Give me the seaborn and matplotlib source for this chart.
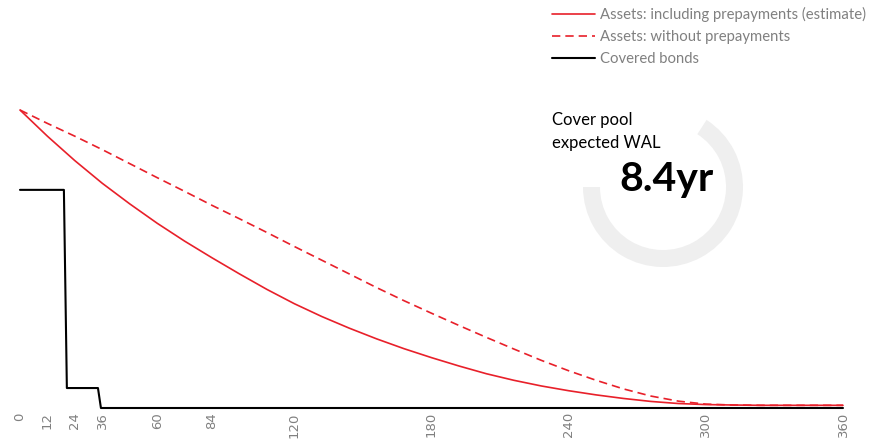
import matplotlib.pyplot as plt
from matplotlib.patches import Wedge
import seaborn as sns

# months on the x axis, values as % of the initial balance
tick_months = [0, 12, 24, 36, 60, 84, 120, 180, 240, 300, 360]

asset_months = [0, 12, 24, 36, 48, 60, 72, 84, 96, 108, 120, 132, 144, 156, 168, 180,
                192, 204, 216, 228, 240, 252, 264, 276, 288, 300, 312, 324, 336, 348, 360]
assets_prepay = [100, 91.2, 83, 75.4, 68.5, 62, 56, 50.4, 45, 39.8, 35.0, 30.7, 26.8,
                 23.2, 19.9, 16.9, 14.1, 11.5, 9.3, 7.4, 5.8, 4.4, 3.2, 2.2, 1.5,
                 1.15, 1.0, 0.9, 0.9, 0.9, 0.9]
assets_no_prepay = [100, 95.5, 91.2, 86.7, 82, 77.3, 72.7, 68, 63.5, 58.9, 54.2, 49.6,
                    45.0, 40.4, 36.0, 31.8, 27.7, 23.7, 19.8, 16.0, 12.5, 9.3, 6.4,
                    4.0, 2.3, 1.3, 1.0, 0.9, 0.9, 0.9, 0.9]

bond_months = [0, 19.2, 20.5, 34.1, 35.4, 360]
covered_bonds = [73.2, 73.2, 6.7, 6.7, 0, 0]

wal_text = "8.4yr"

RED = "#e8202a"
GREY = "#808080"

sns.set_theme(style="white")
plt.rcParams['font.family'] = ['Lato', 'DejaVu Sans']

W, H = 871, 442
fig = plt.figure(figsize=(W / 100, H / 100), dpi=100)

# axes placed in pixels: x 20..843, y 110..408 (from top)
ax = fig.add_axes([20 / W, (H - 408) / H, 823 / W, 298 / H])

sns.lineplot(x=asset_months, y=assets_prepay, ax=ax, color=RED, lw=1.2,
             label="Assets: including prepayments (estimate)")
sns.lineplot(x=asset_months, y=assets_no_prepay, ax=ax, color=RED, lw=1.2,
             label="Assets: without prepayments")
ax.lines[1].set_dashes((5, 3))
sns.lineplot(x=bond_months, y=covered_bonds, ax=ax, color="black", lw=1.5,
             label="Covered bonds")
for ln in ax.lines:
    ln.set_clip_on(False)

ax.set_xlim(0, 360)
ax.set_ylim(0, 100)
ax.set_xticks(tick_months)
ax.set_xticklabels([str(m) for m in tick_months], rotation=90, color=GREY,
                   fontsize=9.5, family='DejaVu Sans')
ax.tick_params(axis='x', length=0, pad=3)
ax.set_yticks([])
ax.set_xlabel('')
ax.set_ylabel('')
sns.despine(ax=ax, left=True, bottom=True)

handles, labels = ax.get_legend_handles_labels()
ax.get_legend().remove()
leg = fig.legend(handles, labels, loc='upper left', bbox_to_anchor=(552 / W, 1 - 7 / H),
                 frameon=False, fontsize=10.7, handlelength=2.9, handletextpad=0.34,
                 labelspacing=0.55, borderpad=0, borderaxespad=0)
for t in leg.get_texts():
    t.set_color(GREY)

# WAL donut
dax = fig.add_axes([(663 - 90) / W, (H - 187 - 90) / H, 180 / W, 180 / H])
dax.set_xlim(-90, 90)
dax.set_ylim(-90, 90)
dax.axis('off')
dax.add_patch(Wedge((0, 0), 80, 180, 57, width=17, color="#efefef", lw=0))

fig.text(552 / W, 1 - 120 / H, "Cover pool", fontsize=12, color="black", va='center')
fig.text(552 / W, 1 - 143 / H, "expected WAL", fontsize=12, color="black", va='center')
fig.text(666 / W, 1 - 180 / H, wal_text, fontsize=29.5, fontweight='bold',
         color="black", ha='center', va='center')

fig.savefig("out.png", dpi=100)
